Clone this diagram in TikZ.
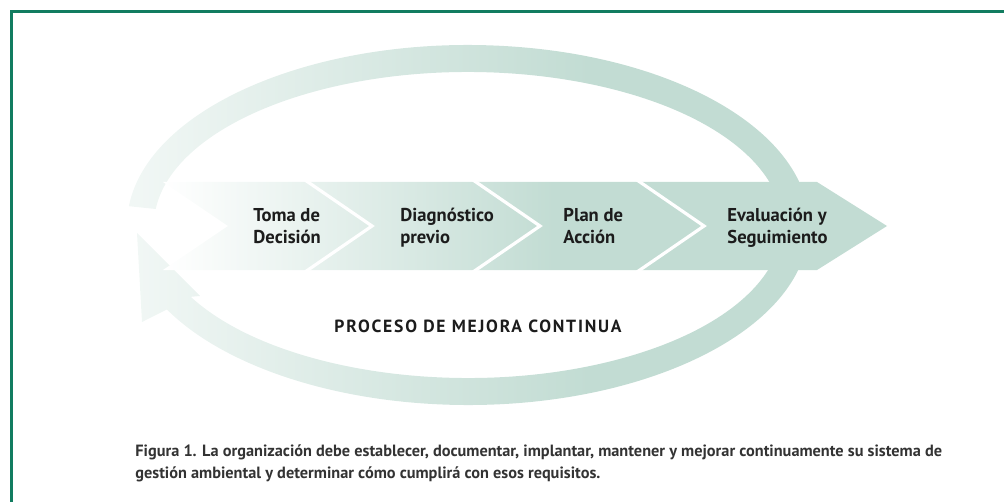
\documentclass[tikz,border=0pt]{standalone}
\usepackage{fontspec}
\setmainfont{PT Sans}
\usepackage{tikz}
\usetikzlibrary{calc}
\definecolor{sage}{RGB}{194,220,211}
\definecolor{framegreen}{RGB}{18,124,96}
\definecolor{inkgray}{RGB}{28,28,28}
\pgfdeclarehorizontalshading{ringfade}{100bp}{color(0bp)=(sage!22!white); color(25bp)=(sage!22!white); color(58bp)=(sage); color(100bp)=(sage)}
\pgfdeclarehorizontalshading{bandfade}{100bp}{color(0bp)=(white); color(25bp)=(white); color(52bp)=(sage); color(100bp)=(sage)}

\begin{document}
\begin{tikzpicture}[x=0.5pt,y=-0.5pt,
	stagetext/.style={font=\bfseries\fontsize{9.3}{10.7}\selectfont, text=inkgray, align=left, anchor=base west, inner sep=0pt},
	divider/.style={draw=white, line width=1.6pt},
	framebar/.style={draw=framegreen, line width=1.5pt}]
				\useasboundingbox (0,0) rectangle (1004,502);
				\draw[framebar] (11.5,502) -- (11.5,11.5) -- (1004,11.5);
				
				% loop arrow
				\shade[shading=ringfade] ({468+341*cos(186)},{225+180*sin(186)}) arc[start angle=186, end angle=512, x radius=341, y radius=180]
					-- (142,322) -- (137,233) -- (200,296)
					-- ({468+314*cos(512)},{225+153*sin(512)}) arc[start angle=512, end angle=186, x radius=314, y radius=153] -- cycle;
				
				% chevron band
				\shade[shading=bandfade] (163,182) -- (817,182) -- (887,226) -- (817,270) -- (163,270) -- (228,226) -- cycle;
				\foreach \x in {305,473,637}
					\draw[divider] (\x,180) -- ({\x+67},226) -- (\x,272);
				
				\node[stagetext] (toma) at (253,243) {Toma de\\Decisión};
				\node[stagetext] (diag) at (400,243) {Diagnóstico\\previo};
				\node[stagetext] (plan) at (563,243) {Plan de\\Acción};
				\node[stagetext] (eval) at (727,243) {Evaluación y\\Seguimiento};
				
				\node[font=\bfseries\fontsize{8.8}{10}\selectfont\addfontfeatures{LetterSpace=10}, text=inkgray, anchor=base, inner sep=0pt] (mejora) at (478,332) {PROCESO DE MEJORA CONTINUA};
				
				\node[font=\bfseries\fontsize{8.15}{10.8}\selectfont, text=inkgray!90, align=left, anchor=base west, inner sep=0pt] (pie) at (135,478) {Figura 1. La organización debe establecer, documentar, implantar, mantener y mejorar continuamente su sistema de\\gestión ambiental y determinar cómo cumplirá con esos requisitos.};
			\end{tikzpicture}
\end{document}
